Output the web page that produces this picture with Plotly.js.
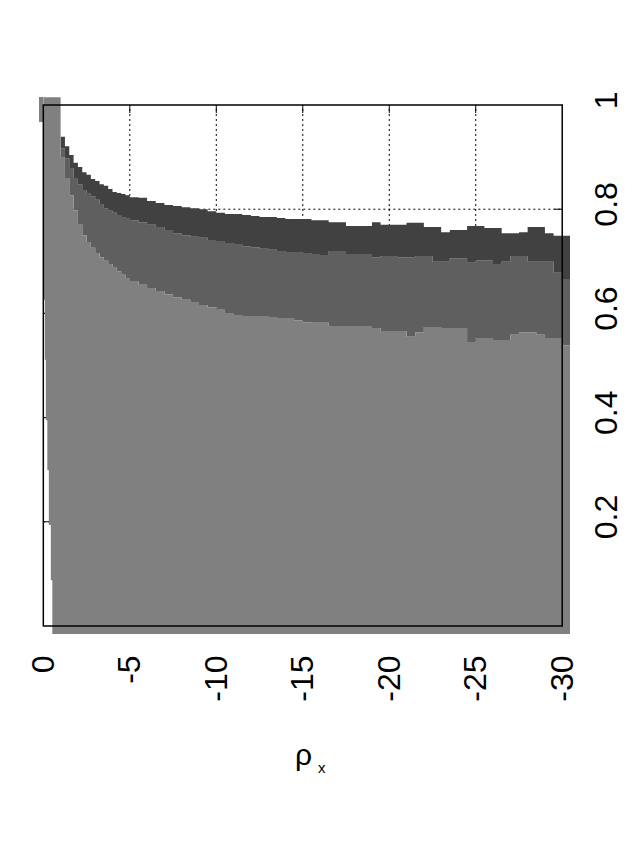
<!DOCTYPE html>
<html>
<head>
<meta charset="utf-8">
<script src="https://cdn.plot.ly/plotly-3.0.1.min.js"></script>
<style>
html,body{margin:0;padding:0;background:#fff;}
#chart{width:641px;height:856px;}
</style>
</head>
<body>
<div id="chart"></div>
<script>
// ---- data ----
// cell edges along rho (horizontal axis, 0 .. -30, plus a last cell beyond -30)
const rhoEdges = [0, -1,
  -1.25, -1.5, -1.75, -2, -2.25, -2.5, -2.75, -3, -3.25, -3.5, -3.75, -4, -4.25, -4.5, -4.75, -5,
  -5.5, -6, -6.5, -7, -7.5, -8, -8.5, -9, -9.5, -10, -10.5, -11, -11.5, -12, -12.5, -13, -13.5, -14, -14.5, -15,
  -15.5, -16, -16.5, -17, -17.5, -18, -18.5, -19, -19.5, -20, -20.5, -21, -21.5, -22, -22.5, -23, -23.5, -24, -24.5, -25,
  -25.5, -26, -26.5, -27, -27.5, -28, -28.5, -29, -29.5, -30, -30.45];

// upper edge of the darkest region (white above)
const darkTop = [1.015,
  0.939, 0.921, 0.904, 0.889, 0.881, 0.871, 0.866, 0.858, 0.854, 0.848, 0.845, 0.839, 0.833, 0.831, 0.829, 0.827,
  0.823, 0.822, 0.816, 0.812, 0.808, 0.806, 0.804, 0.802, 0.800, 0.796, 0.793, 0.791, 0.791, 0.789, 0.787, 0.785, 0.785, 0.783, 0.781, 0.781,
  0.781, 0.779, 0.779, 0.775, 0.775, 0.768, 0.768, 0.768, 0.775, 0.770, 0.770, 0.770, 0.774, 0.774, 0.766, 0.766, 0.756, 0.760, 0.760, 0.768,
  0.768, 0.764, 0.764, 0.754, 0.754, 0.756, 0.766, 0.766, 0.754, 0.749, 0.749];

// upper edge of the middle-grey region
const midTop = [1.015,
  0.917, 0.898, 0.879, 0.860, 0.848, 0.837, 0.831, 0.825, 0.818, 0.810, 0.802, 0.797, 0.793, 0.789, 0.785, 0.783,
  0.779, 0.775, 0.770, 0.766, 0.760, 0.754, 0.750, 0.747, 0.745, 0.741, 0.739, 0.735, 0.733, 0.729, 0.727, 0.724, 0.722, 0.720, 0.718, 0.718,
  0.716, 0.714, 0.712, 0.720, 0.720, 0.714, 0.714, 0.714, 0.708, 0.710, 0.710, 0.708, 0.708, 0.710, 0.710, 0.699, 0.699, 0.706, 0.706, 0.697,
  0.702, 0.702, 0.695, 0.699, 0.710, 0.710, 0.699, 0.699, 0.699, 0.678, 0.666];

// upper edge of the light-grey region
const lightTop = [1.015,
  0.900, 0.860, 0.827, 0.798, 0.770, 0.750, 0.737, 0.726, 0.716, 0.708, 0.701, 0.695, 0.689, 0.681, 0.674, 0.668,
  0.662, 0.655, 0.649, 0.643, 0.637, 0.631, 0.626, 0.622, 0.616, 0.612, 0.607, 0.601, 0.597, 0.595, 0.595, 0.595, 0.593, 0.591, 0.591, 0.587,
  0.583, 0.582, 0.582, 0.576, 0.576, 0.576, 0.576, 0.576, 0.572, 0.566, 0.566, 0.566, 0.555, 0.564, 0.574, 0.574, 0.572, 0.572, 0.572, 0.545,
  0.553, 0.553, 0.549, 0.549, 0.559, 0.564, 0.564, 0.559, 0.553, 0.553, 0.539];

// left edge of the light region near rho = 0 (bottom to top)
const edgeVal = [-0.0154, 0.088, 0.194, 0.299, 0.395, 0.511, 0.626, 0.722];
const edgeRho = [-0.578, -0.52, -0.434, -0.318, -0.231, -0.145, -0.087, -0.029];

// small column left of rho = 0 at the top
const stubRho = [0.125], stubBase = [0.967], stubHeight = [0.048], stubWidth = [0.25];

// axis ticks
const xTicks = [0, -5, -10, -15, -20, -25, -30];
const xTickText = ['0', '-5', '-10', '-15', '-20', '-25', '-30'];
const yTicks = [0.2, 0.4, 0.6, 0.8, 1];
const yTickText = ['0.2', '0.4', '0.6', '0.8', '1'];

// ---- build ----
const LIGHT = '#808080', MID = '#5f5f5f', DARK = '#414141';
function stepXY(vals) {
  const x = [], y = [];
  for (let i = 0; i < vals.length; i++) { x.push(rhoEdges[i]); y.push(vals[i]); }
  x.push(rhoEdges[rhoEdges.length - 1]); y.push(vals[vals.length - 1]);
  return {x, y};
}
const L = stepXY(lightTop), M = stepXY(midTop), D = stepXY(darkTop);
const yBottom = -0.0154;
const xEnd = rhoEdges[rhoEdges.length - 1];

// light polygon: top boundary, down the right, along the bottom, up the left edge
const polyX = L.x.concat([xEnd], edgeRho, [0]);
const polyY = L.y.concat([yBottom], edgeVal, [edgeVal[edgeVal.length - 1]]);

const traces = [
  {x: L.x, y: L.y, mode: 'lines', line: {width: 0, shape: 'hv'}, hoverinfo: 'skip', showlegend: false},
  {x: M.x, y: M.y, mode: 'lines', line: {width: 0, shape: 'hv'}, fill: 'tonexty', fillcolor: MID, hoverinfo: 'skip', showlegend: false},
  {x: D.x, y: D.y, mode: 'lines', line: {width: 0, shape: 'hv'}, fill: 'tonexty', fillcolor: DARK, hoverinfo: 'skip', showlegend: false},
  {x: polyX, y: polyY, mode: 'lines', line: {width: 0, shape: 'hv'}, fill: 'toself', fillcolor: LIGHT, hoverinfo: 'skip', showlegend: false},
  {type: 'bar', x: stubRho, y: stubHeight, base: stubBase, width: stubWidth,
   marker: {color: LIGHT, line: {width: 0}}, hoverinfo: 'skip', showlegend: false}
];

const shapes = [];
// dotted grid (below data)
xTicks.slice(1, -1).forEach(v => shapes.push({type: 'line', layer: 'below', xref: 'x', yref: 'y', x0: v, x1: v, y0: 0, y1: 1,
  line: {color: '#000', width: 1, dash: '2px,3px'}}));
yTicks.slice(0, -1).forEach(v => shapes.push({type: 'line', layer: 'below', xref: 'x', yref: 'y', x0: 0, x1: -30, y0: v, y1: v,
  line: {color: '#000', width: 1, dash: '2px,3px'}}));
// inward tick marks (below data)
yTicks.slice(0, -1).forEach(v => {
  shapes.push({type: 'line', layer: 'below', xref: 'x', yref: 'y', x0: 0, x1: -0.46, y0: v, y1: v, line: {color: '#000', width: 1}});
  shapes.push({type: 'line', layer: 'below', xref: 'x', yref: 'y', x0: -30, x1: -29.54, y0: v, y1: v, line: {color: '#000', width: 1}});
});
xTicks.slice(1, -1).forEach(v => {
  shapes.push({type: 'line', layer: 'below', xref: 'x', yref: 'y', x0: v, x1: v, y0: 0, y1: 0.0154, line: {color: '#000', width: 1}});
  shapes.push({type: 'line', layer: 'below', xref: 'x', yref: 'y', x0: v, x1: v, y0: 1, y1: 0.9846, line: {color: '#000', width: 1}});
});
// frame
shapes.push({type: 'rect', layer: 'above', xref: 'x', yref: 'y', x0: 0, x1: -30, y0: 0, y1: 1,
  line: {color: '#000', width: 1.5}, fillcolor: 'rgba(0,0,0,0)'});

const FONT = 'Liberation Sans, Arial, sans-serif';
const layout = {
  width: 641, height: 856,
  margin: {l: 39, r: 71, t: 97, b: 222},
  paper_bgcolor: '#fff', plot_bgcolor: '#fff',
  showlegend: false,
  bargap: 0,
  xaxis: {range: [0.25, -30.45], tickvals: xTicks, ticktext: xTickText, tickangle: -90,
    showgrid: false, zeroline: false, showline: false, ticks: '', ticklabelstandoff: 14,
    tickfont: {family: FONT, size: 32, color: '#000'}},
  yaxis: {range: [-0.0154, 1.0154], side: 'right', tickvals: yTicks, ticktext: yTickText, tickangle: -90,
    showgrid: false, zeroline: false, showline: false, ticks: '', ticklabelstandoff: 14,
    tickfont: {family: FONT, size: 32, color: '#000'}},
  shapes: shapes,
  annotations: [
    {xref: 'paper', yref: 'paper', x: 0.518, y: -0.2253, text: 'ρ', showarrow: false,
     xanchor: 'right', yanchor: 'middle', font: {family: FONT, size: 30, color: '#000'}},
    {xref: 'paper', yref: 'paper', x: 0.5215, y: -0.2477, text: 'x', showarrow: false,
     xanchor: 'left', yanchor: 'middle', font: {family: FONT, size: 15, color: '#000'}}
  ]
};

Plotly.newPlot('chart', traces, layout, {staticPlot: true, displayModeBar: false});
</script>
</body>
</html>
